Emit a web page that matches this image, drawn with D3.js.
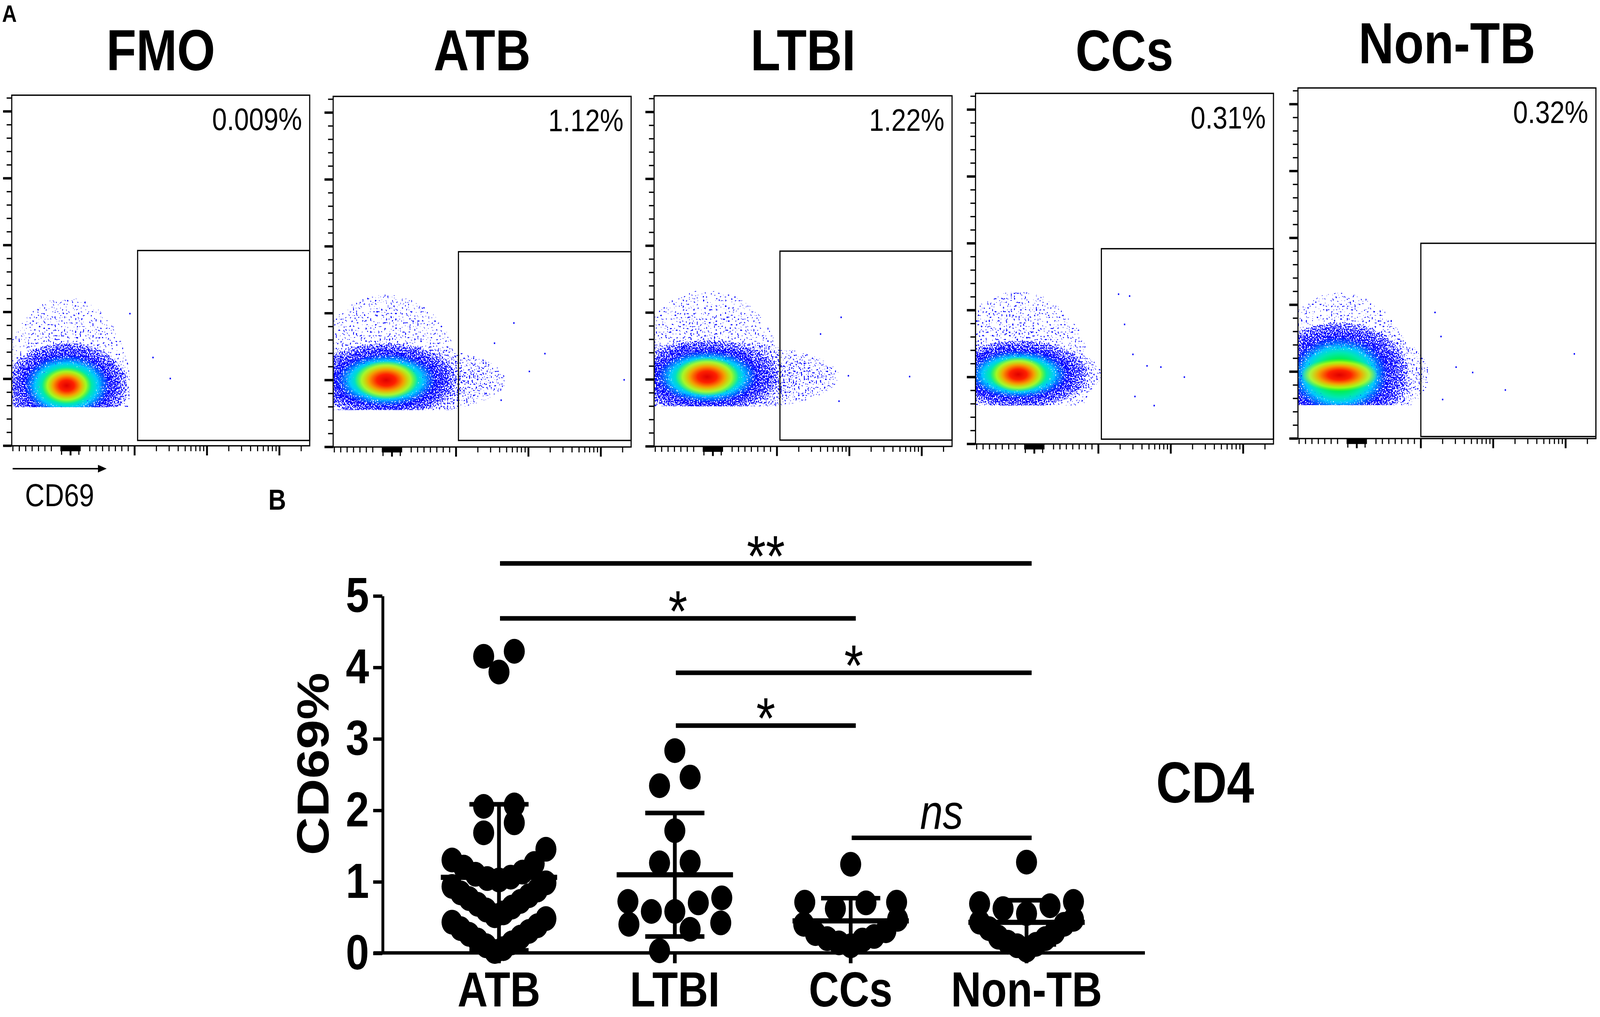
<!DOCTYPE html>
<html>
<head>
<meta charset="utf-8">
<script src="https://cdn.jsdelivr.net/npm/d3@7"></script>
<style>
  html, body { margin: 0; padding: 0; background: #fff; overflow: hidden; }
  svg { display: block; width: 100vw; height: 100vh; }
  text { font-family: "Liberation Sans", Arial, sans-serif; }
</style>
</head>
<body>
<div id="figure"></div>
<script>
// ---------------- panel A : flow plots ----------------
const flowGroups = ["FMO", "ATB", "LTBI", "CCs", "Non-TB"];
const gateLabels = ["0.009%", "1.12%", "1.22%", "0.31%", "0.32%"];
// population centre (CD69, SSC) and spread
const popCD69 = [-60, -90, -90, -250, -270];
const popSSC = [45000, 50000, 52000, 52000, 47500];
const coreCD69Lo = [-800, -890, -900, -950, -950];
const coreCD69Hi = [840, 1030, 1050, 920, 900];
const coreSSCTop = [73000, 74000, 76000, 74000, 82000];
const hotHalfCD69 = [300, 380, 380, 340, 460];
const hotHalfSSC = [10500, 11000, 11000, 10000, 9500];
const sparseSSCTop = [111000, 114000, 117000, 114000, 109000];
const tailCD69 = [930, 5000, 7300, 1100, 1300];
const floorSSC = [28900, 27700, 30000, 28700, 25000];
// CD69+ gate
const gateCD69 = [1100, 1080, 1100, 1100, 1000];
const gateSSCLo = [4000, 4900, 4700, 3600, 1500];
const gateSSCHi = 146000;
// single events outside the main cloud
const eventCD69 = [
  [927, 1795, 3110],
  [3400, 6300, 16900, 10300, 210000, 2600, 4200],
  [4000, 7700, 9700, 68000, 7200, 2400],
  [1900, 2700, 2300, 3000, 4700, 7300, 15400, 5900, 3200],
  [1570, 1900, 3070, 5200, 14700, 132000, 2000]
];
const eventSSC = [
  [98800, 66000, 50300],
  [77600, 92700, 69800, 56500, 50200, 40000, 35000],
  [84000, 96500, 52800, 52200, 33800, 62000],
  [112000, 110600, 89400, 67000, 58400, 57500, 50000, 28700, 35500],
  [94300, 76300, 53400, 49400, 36300, 63300, 29200]
];
const cd69Major = [0, 1000, 10000, 100000];
const cd69Minor = [].concat(
  d3.range(-900, -200, 100), d3.range(-150, 151, 12.5), [-140, 130],
  d3.range(300, 1000, 100), d3.range(2000, 10000, 1000),
  d3.range(20000, 100000, 10000), [200000]
);
const sscMajor = d3.range(0, 250001, 50000);
const sscMinor = d3.range(0, 262144, 10000).filter(d => d % 50000 !== 0);

// ---------------- panel B : CD69% in CD4 ----------------
const groups = ["ATB", "LTBI", "CCs", "Non-TB"];
const atbValues = [4.22, 4.15, 3.93, 2.07, 2.05, 1.82, 1.68, 1.45, 1.30, 1.25, 1.20, 1.13,
  1.10, 1.06, 1.04, 1.02, 0.98, 0.93, 0.88, 0.84, 0.80, 0.76, 0.72, 0.68, 0.64, 0.60,
  0.56, 0.52, 0.48, 0.43, 0.38, 0.34, 0.30, 0.26, 0.22, 0.18, 0.14, 0.10, 0.06, 0.02];
const ltbiValues = [2.83, 2.46, 2.34, 1.71, 1.27, 1.26, 0.77, 0.72, 0.70, 0.58, 0.58,
  0.42, 0.40, 0.33, 0.03];
const ccsValues = [1.24, 0.71, 0.71, 0.70, 0.62, 0.47, 0.40, 0.31, 0.27, 0.23, 0.20,
  0.18, 0.14, 0.10];
const nonTbValues = [1.27, 0.72, 0.69, 0.66, 0.62, 0.55, 0.47, 0.43, 0.40, 0.34, 0.29,
  0.22, 0.20, 0.15, 0.12, 0.10, 0.04];
const groupValues = [atbValues, ltbiValues, ccsValues, nonTbValues];
// significance brackets
const compFrom = ["ATB", "ATB", "LTBI", "LTBI", "CCs"];
const compTo = ["Non-TB", "CCs", "Non-TB", "CCs", "Non-TB"];
const compLabel = ["**", "*", "*", "*", "ns"];
const compLevel = [5.45, 4.68, 3.92, 3.18, 1.61];
const yTicks = [0, 1, 2, 3, 4, 5];

// ---------------- drawing ----------------
const W = 1568, H = 844.1;
const svg = d3.select("#figure").append("svg")
  .attr("viewBox", `0 0 ${W} ${H}`)
  .attr("preserveAspectRatio", "none");
const defs = svg.append("defs");

function addGradient(id, stops) {
  const gr = defs.append("radialGradient").attr("id", id);
  stops.forEach(s => gr.append("stop").attr("offset", s[0])
    .attr("stop-color", s[1]).attr("stop-opacity", s[2]));
}
// outer part of the pseudocolour cloud
addGradient("cloud", [
  [0, "#30ff10", 1], [0.28, "#00f040", 0.92], [0.42, "#00e8b0", 0.78], [0.52, "#00c8ff", 0.68],
  [0.62, "#0060ff", 0.6], [0.72, "#0000ff", 0.55], [0.86, "#0000ff", 0.5], [1, "#0000ff", 0.42]
]);
// hot centre of the cloud
addGradient("hot", [
  [0, "#e00000", 1], [0.3, "#ff2000", 1], [0.55, "#ff9a00", 0.95], [0.78, "#ffff00", 0.6],
  [1, "#a0ff00", 0]
]);
addGradient("halo", [[0, "#0000ff", 0.38], [1, "#0000ff", 0.32]]);
addGradient("tail", [[0, "#0000ff", 0.43], [0.6, "#0000ff", 0.4], [1, "#0000ff", 0.34]]);

// grainy dot texture for the density plots (one noise field per layer)
function addSpeckle(id, seed, freq) {
  const f = defs.append("filter").attr("id", id)
    .attr("x", "-20%").attr("y", "-20%").attr("width", "140%").attr("height", "140%")
    .attr("color-interpolation-filters", "sRGB");
  f.append("feTurbulence").attr("type", "fractalNoise").attr("baseFrequency", freq)
    .attr("numOctaves", 1).attr("seed", seed).attr("result", "n");
  f.append("feColorMatrix").attr("in", "n").attr("type", "matrix")
    .attr("values", "0 0 0 0 0  0 0 0 0 0  0 0 0 0 0  1 0 0 0 0").attr("result", "na");
  f.append("feComposite").attr("in", "SourceAlpha").attr("in2", "na").attr("operator", "arithmetic")
    .attr("k1", 0).attr("k2", 1).attr("k3", -1).attr("k4", 0.5).attr("result", "diff");
  f.append("feComponentTransfer").attr("in", "diff").attr("result", "mask")
    .append("feFuncA").attr("type", "discrete").attr("tableValues", "0 1");
  f.append("feColorMatrix").attr("in", "SourceGraphic").attr("type", "matrix")
    .attr("values", "1 0 0 0 0  0 1 0 0 0  0 0 1 0 0  0 0 0 0 1").attr("result", "op");
  f.append("feComposite").attr("in", "op").attr("in2", "mask").attr("operator", "in");
}
addSpeckle("speckleCore", 7, 0.9);
addSpeckle("speckleHalo", 23, 0.65);
addSpeckle("speckleTail", 41, 0.75);

// biexponential-like display transform for CD69
function biex(v) {
  const a = Math.abs(v);
  return a <= 1000 ? v / 1000 : Math.sign(v) * (1 + 1.13 * Math.log10(a / 1000));
}

const boxLeft = [11.5, 326.5, 641, 956, 1272];
const boxBottom = [370, 371, 370.5, 368.5, 364];
const boxW = 292, boxH = 291;
const titleBase = [58.4, 58.5, 58.5, 58.6, 52.4];

svg.append("text").attr("x", 2).attr("y", 18).attr("font-size", 20)
  .attr("font-weight", "bold").text("A");

flowGroups.forEach((name, i) => {
  const left = boxLeft[i], bottom = boxBottom[i], top = bottom - boxH;
  const xl = d3.scaleLinear().domain([biex(-918), biex(262144)]).range([left, left + boxW]);
  const x = v => xl(biex(v));
  const y = d3.scaleLinear().domain([0, 262144]).range([bottom, top]);
  const g = svg.append("g");

  g.append("text").attr("x", left + boxW / 2).attr("y", titleBase[i])
    .attr("text-anchor", "middle").attr("font-size", 48).attr("font-weight", "bold")
    .text(name);

  // cell cloud
  const clipId = "clip" + i;
  defs.append("clipPath").attr("id", clipId).append("rect")
    .attr("x", left).attr("y", top).attr("width", boxW).attr("height", y(floorSSC[i]) - top);
  const clipped = g.append("g").attr("clip-path", `url(#${clipId})`);
  const cx = x(popCD69[i]), cy = y(popSSC[i]);
  const rx = (x(coreCD69Hi[i]) - x(coreCD69Lo[i])) / 2 * 1.15;
  const ry = (cy - y(coreSSCTop[i])) * 1.15;
  clipped.append("g").attr("filter", "url(#speckleHalo)")
    .append("ellipse").attr("cx", cx).attr("cy", cy)
    .attr("rx", rx * 1.05).attr("ry", cy - y(sparseSSCTop[i])).attr("fill", "url(#halo)");
  clipped.append("g").attr("filter", "url(#speckleTail)")
    .append("ellipse").attr("cx", cx).attr("cy", cy)
    .attr("rx", x(tailCD69[i]) - cx).attr("ry", ry * 0.95).attr("fill", "url(#tail)");
  const core = clipped.append("g").attr("filter", "url(#speckleCore)");
  core.append("ellipse").attr("cx", cx).attr("cy", cy)
    .attr("rx", rx).attr("ry", ry).attr("fill", "url(#cloud)");
  core.append("ellipse").attr("cx", cx).attr("cy", cy)
    .attr("rx", (x(popCD69[i] + hotHalfCD69[i]) - x(popCD69[i] - hotHalfCD69[i])) / 2 * 1.3)
    .attr("ry", (y(popSSC[i] - hotHalfSSC[i]) - y(popSSC[i] + hotHalfSSC[i])) / 2 * 1.3)
    .attr("fill", "url(#hot)");

  g.selectAll(null).data(eventCD69[i]).join("rect")
    .attr("x", d => x(d) - 0.65)
    .attr("y", (d, j) => y(eventSSC[i][j]) - 0.65)
    .attr("width", 1.3).attr("height", 1.3).attr("fill", "#0000ff");

  // frame and gate
  g.append("rect").attr("x", left).attr("y", top).attr("width", boxW).attr("height", boxH)
    .attr("fill", "none").attr("stroke", "#000").attr("stroke-width", 1.1);
  g.append("rect").attr("x", x(gateCD69[i])).attr("y", y(gateSSCHi))
    .attr("width", left + boxW - x(gateCD69[i])).attr("height", y(gateSSCLo[i]) - y(gateSSCHi))
    .attr("fill", "none").attr("stroke", "#000").attr("stroke-width", 1.1);
  g.append("text").attr("x", left + boxW - 7.5).attr("y", top + 29)
    .attr("text-anchor", "end").attr("font-size", 26).text(gateLabels[i]);

  // SSC ticks
  g.selectAll(null).data(sscMinor).join("line")
    .attr("x1", left - 5).attr("x2", left).attr("y1", d => y(d)).attr("y2", d => y(d))
    .attr("stroke", "#000").attr("stroke-width", 1.1);
  g.selectAll(null).data(sscMajor).join("line")
    .attr("x1", left - 8.5).attr("x2", left).attr("y1", d => y(d)).attr("y2", d => y(d))
    .attr("stroke", "#000").attr("stroke-width", 2);
  // CD69 ticks
  g.selectAll(null).data(cd69Minor).join("line")
    .attr("x1", d => x(d)).attr("x2", d => x(d)).attr("y1", bottom)
    .attr("y2", d => bottom + (d === -140 || d === 130 ? 7.5 : 4.5))
    .attr("stroke", "#000").attr("stroke-width", 1.1);
  g.selectAll(null).data(cd69Major).join("line")
    .attr("x1", d => x(d)).attr("x2", d => x(d)).attr("y1", bottom).attr("y2", bottom + 8)
    .attr("stroke", "#000").attr("stroke-width", 1.8);

  if (i === 0) {
    g.append("line").attr("x1", 12.4).attr("x2", 97).attr("y1", 389).attr("y2", 389)
      .attr("stroke", "#000").attr("stroke-width", 1.2);
    g.append("path").attr("d", "M104.5,389L96,385.8L96,392.2Z").attr("fill", "#000");
    g.append("text").attr("x", 24.5).attr("y", 420).attr("font-size", 26.5).text("CD69");
  }
});

// ---------------- panel B ----------------
svg.append("text").attr("x", 263).attr("y", 423).attr("font-size", 24)
  .attr("font-weight", "bold").text("B");

const yB = d3.scaleLinear().domain([0, 5]).range([790.9, 494.3]);
const xB = d3.scalePoint().domain(groups).range([489, 1006]);
const dotR = 10.3, sMax = 30, wMax = 92, binSize = 0.5;

// Prism-like column scatter: values binned, lowest in the centre, spreading out
function layoutColumn(values, cx) {
  const out = [];
  d3.groups(values, v => Math.floor(v / binSize)).forEach(([k, vs]) => {
    vs = vs.slice().sort(d3.ascending);
    const n = vs.length;
    const s = n > 1 ? Math.min(sMax, wMax / (n - 1)) : 0;
    vs.forEach((v, j) => {
      let slot;
      if (n % 2) slot = j === 0 ? 0 : (j % 2 ? -Math.ceil(j / 2) : Math.ceil(j / 2));
      else slot = (j % 2 ? 1 : -1) * (Math.floor(j / 2) + 0.5);
      out.push({ v: v, x: cx + slot * s });
    });
  });
  return out;
}

const plot = svg.append("g");

// axes
const yAxis = plot.append("g").attr("transform", "translate(374.7,0)")
  .call(d3.axisLeft(yB).tickValues(yTicks).tickFormat(d3.format("d"))
    .tickSize(9).tickSizeOuter(0).tickPadding(4));
yAxis.select(".domain").attr("stroke-width", 2.8);
yAxis.selectAll(".tick line").attr("stroke-width", 2.8);
yAxis.selectAll(".tick text").attr("font-size", 41).attr("font-weight", "bold")
  .attr("font-family", "'Liberation Sans', Arial, sans-serif").attr("fill", "#000");

plot.append("line").attr("x1", 366).attr("x2", 1122).attr("y1", yB(0)).attr("y2", yB(0))
  .attr("stroke", "#000").attr("stroke-width", 2.8);
plot.selectAll(null).data(groups).join("line")
  .attr("x1", d => xB(d)).attr("x2", d => xB(d)).attr("y1", yB(0)).attr("y2", yB(0) + 8.6)
  .attr("stroke", "#000").attr("stroke-width", 3.6);
plot.selectAll(null).data(groups).join("text")
  .attr("x", d => xB(d)).attr("y", 835.5).attr("text-anchor", "middle")
  .attr("font-size", 41).attr("font-weight", "bold").text(d => d);

plot.append("text").attr("transform", "translate(322,634) rotate(-90)")
  .attr("text-anchor", "middle").attr("font-size", 44).attr("font-weight", "bold").text("CD69%");

// dots
groups.forEach((grp, i) => {
  const pts = layoutColumn(groupValues[i], xB(grp));
  plot.selectAll(null).data(pts).join("circle")
    .attr("cx", d => d.x).attr("cy", d => yB(d.v)).attr("r", dotR).attr("fill", "#000");
});

// mean +/- SD
groups.forEach((grp, i) => {
  const m = d3.mean(groupValues[i]), sd = d3.deviation(groupValues[i]);
  const cx = xB(grp);
  plot.append("line").attr("x1", cx).attr("x2", cx).attr("y1", yB(m - sd)).attr("y2", yB(m + sd))
    .attr("stroke", "#000").attr("stroke-width", 3.7);
  plot.append("line").attr("x1", cx - 57).attr("x2", cx + 57).attr("y1", yB(m)).attr("y2", yB(m))
    .attr("stroke", "#000").attr("stroke-width", 4.3);
  [m - sd, m + sd].forEach(v => plot.append("line")
    .attr("x1", cx - 29).attr("x2", cx + 29).attr("y1", yB(v)).attr("y2", yB(v))
    .attr("stroke", "#000").attr("stroke-width", 3.8));
});

// significance brackets
compLabel.forEach((lab, i) => {
  const x1 = xB(compFrom[i]) + 1, x2 = xB(compTo[i]) + 5, yy = yB(compLevel[i]);
  plot.append("line").attr("x1", x1).attr("x2", x2).attr("y1", yy).attr("y2", yy)
    .attr("stroke", "#000").attr("stroke-width", 3.8);
  const t = plot.append("text").attr("x", (x1 + x2) / 2).attr("text-anchor", "middle").text(lab);
  if (lab === "ns") t.attr("y", yy - 7.6).attr("font-size", 40).attr("font-style", "italic");
  else t.attr("y", yy + 10.5).attr("font-size", 48);
});

plot.append("text").attr("x", 1133).attr("y", 666).attr("font-size", 48)
  .attr("font-weight", "bold").text("CD4");
</script>
</body>
</html>
